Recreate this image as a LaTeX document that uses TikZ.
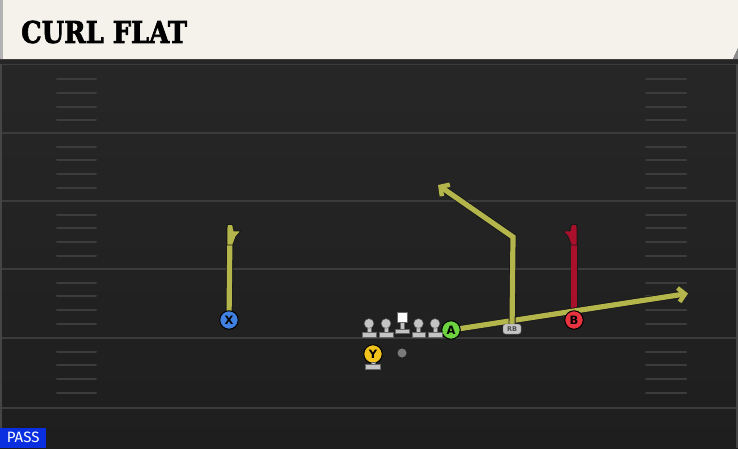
\documentclass[tikz,border=0pt]{standalone}
\usepackage{fontspec}
\usetikzlibrary{arrows.meta}
\newfontfamily\titlefont{DejaVu Serif}[BoldFont={* Bold}, BoldFeatures={FakeBold=2.5}]
\newfontfamily\labfont{DejaVu Sans}
\newfontfamily\passfont{Fira Sans}
\definecolor{bgtop}{HTML}{282828}
\definecolor{bgbot}{HTML}{1E1E1E}
\definecolor{yardc}{HTML}{3B3B3B}
\definecolor{hashc}{HTML}{3C3C3C}
\definecolor{edgec}{HTML}{454545}
\definecolor{cream}{HTML}{F4F2EB}
\definecolor{routey}{HTML}{B4B64C}
\definecolor{router}{HTML}{A8102C}
\definecolor{xblue}{HTML}{4080E0}
\definecolor{agreen}{HTML}{6CD240}
\definecolor{ygold}{HTML}{F2C21D}
\definecolor{bred}{HTML}{E8343F}
\definecolor{olgray}{HTML}{C4C4C4}
\definecolor{passblue}{HTML}{0A2FE0}
\pgfdeclarelayer{field}
\pgfdeclarelayer{routes}
\pgfsetlayers{field,routes,main}
\tikzset{
  player/.style={circle, draw=black, line width=1pt, minimum size=18.5pt, inner sep=0pt,
    font=\labfont\bfseries\fontsize{11.5}{11.5}\selectfont},
  route/.style={line width=5.2pt, draw=#1, line join=miter,
    preaction={draw=black!90, line width=7pt}},
  flag/.style={fill=#1, draw=black!90, line width=0.9pt, line join=round},
  tip/.style={-{Straight Barb[length=6.5pt,width=14pt,line width=4.5pt]}},
  yardline/.style={draw=yardc, line width=2pt},
  hashmark/.style={draw=hashc, line width=2pt, line cap=round},
  olpart/.style={fill=olgray, draw=black!60, line width=0.4pt},
  lineman/.pic={
    \fill[olpart] (-2,0) rectangle (2,10);
    \fill[olpart] (-6.8,9) rectangle (6.8,13.5);
    \fill[olpart] (0,0) circle (4.8);
  }
}
\begin{document}
\begin{tikzpicture}[x=1pt,y=-1pt]
\useasboundingbox (0,0) rectangle (738,448);
\begin{pgfonlayer}{field}
  \shade[top color=bgtop, bottom color=bgbot] (0,0) rectangle (738,448);
  % edges
  \draw[edgec, line width=1.5pt] (1,64) -- (1,448);
  \draw[edgec, line width=1.5pt] (737,64) -- (737,448);
  % yard lines
  \foreach \y in {64,133,201,269,338,408} \draw[yardline] (2,\y) -- (736,\y);
  % hash marks
  \foreach \b in {65.5,133,201,269,338} {
    \foreach \k in {1,2,3,4} {
      \draw[hashmark] (57,{\b+13.7*\k}) -- (96,{\b+13.7*\k});
      \draw[hashmark] (646,{\b+13.7*\k}) -- (686,{\b+13.7*\k});
    }
  }
  % header
  \fill[black!85] (0,58) rectangle (738,64);
  \fill[cream] (0,0) -- (738,0) -- (738,48) -- (733,59) -- (0,59) -- cycle;
  \fill[black!30] (0,0) rectangle (2.5,59);
  \fill[black!45] (738,48) -- (733,59) -- (738,59) -- cycle;
\end{pgfonlayer}

\node[anchor=west, inner sep=0pt, xscale=0.86,
  font=\titlefont\bfseries\fontsize{30}{30}\selectfont] (title) at (21,32) {CURL FLAT};

% players
\node[player, fill=xblue] (X) at (229,320) {X};
\node[player, fill=bred] (B) at (574,320) {B};
\node[player, fill=agreen] (A) at (451,330) {A};
\node[player, fill=ygold] (Y) at (373,354) {Y};
\fill[olpart] (371,362.5) rectangle (375,365);
\fill[olpart] (365.5,364.5) rectangle (380.5,369);
\node[circle, fill=black!52, minimum size=9pt, inner sep=0pt] (QB) at (402,353) {};
\node[rounded corners=2.5pt, fill=olgray, draw=black!60, line width=0.4pt,
  minimum width=18pt, minimum height=10pt, inner sep=0pt,
  font=\labfont\bfseries\fontsize{6.5}{6.5}\selectfont, text=black!70] (RB) at (512,329) {RB};

% offensive line
\pic at (369,323.5) {lineman};
\pic at (386,323.5) {lineman};
\pic at (418.5,323.5) {lineman};
\pic at (435,323.5) {lineman};
\fill[olpart] (400,320) rectangle (404,330);
\fill[olpart] (395,329) rectangle (409,333.5);
\node[fill=white, draw=black!60, line width=0.4pt, minimum size=10pt, inner sep=0pt] (C) at (402,317.5) {};

% route end points
\coordinate (xtop) at (230,227);
\coordinate (btop) at (574,227);
\coordinate (flatend) at (688,293.5);
\coordinate (rbbreak) at (513,237);
\coordinate (postend) at (438,185);

\begin{pgfonlayer}{routes}
  \draw[route=routey] (X.center) -- (xtop);
  \draw[flag=routey] (227,228) -- (227.5,224.5) -- (232.5,224.5) -- (234,231) -- (241,231) -- (236,236.5) -- (232.8,245) -- (227,245) -- cycle;
  \draw[route=router] (B.center) -- (btop);
  \draw[flag=router] (577,228) -- (576.5,224.5) -- (571.5,224.5) -- (570,231) -- (563,231) -- (568,236.5) -- (571.2,245) -- (577,245) -- cycle;
  \draw[route=routey, tip] (A.center) -- (flatend);
  \draw[route=routey, tip] (RB.center) -- (rbbreak) -- (postend);
\end{pgfonlayer}

\node[anchor=south west, fill=passblue, text=white, inner sep=0pt,
  minimum width=46pt, minimum height=20pt,
  font=\passfont\fontsize{15}{15}\selectfont] (pass) at (0,448) {PASS};
\end{tikzpicture}
\end{document}
